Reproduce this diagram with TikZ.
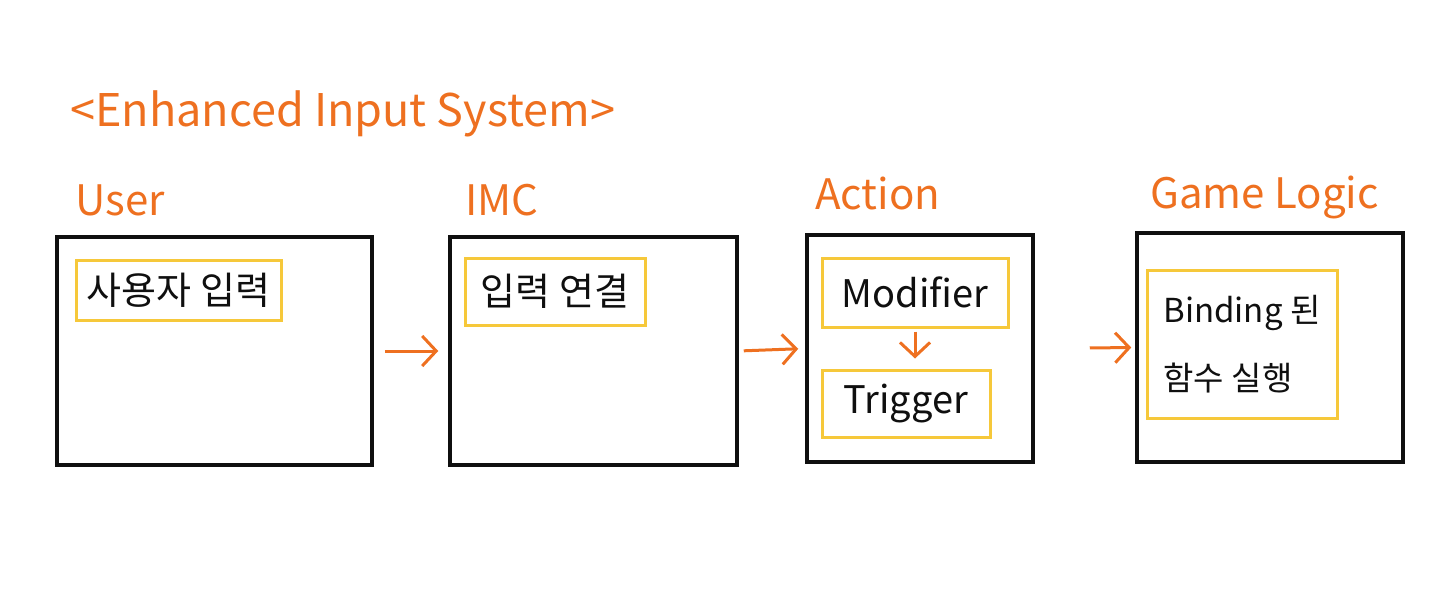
\documentclass[tikz,border=0pt]{standalone}
\usepackage{fontspec}
\setmainfont{Noto Sans CJK KR}
\usepackage{xcolor}
\definecolor{PenOrange}{RGB}{238,112,32}
\definecolor{PenYellow}{RGB}{246,200,58}
\definecolor{PenBlack}{RGB}{15,15,15}
\usepackage{tikz}
\usetikzlibrary{arrows.meta, positioning}
\tikzset{
  % Outer black frame
  frame/.style={
    rectangle, draw=PenBlack, line width=3.5pt
  },
  % Yellow inner box
  ybox/.style={
    rectangle, draw=PenYellow, line width=3pt,
    align=left, inner sep=4pt,
    font=\fontsize{38}{70}\selectfont, text=PenBlack
  },
  % Orange headings
  head/.style={
    anchor=base west, inner sep=0pt, text=PenOrange,
    font=\fontsize{42}{48}\selectfont
  },
  % Arrows
  arr/.style={-{Straight Barb[length=14pt,width=30pt,line width=3pt]}, line width=3pt, PenOrange},
}
\begin{document}
\begin{tikzpicture}[x=1pt, y=-1pt]
  \useasboundingbox (0,0) rectangle (1440,596);

  %% Title and headings
  \node[head, font=\fontsize{45}{50}\selectfont] (title) at (70,127) {<Enhanced Input System>};
  \node[head] (huser)   at (75,215)   {User};
  \node[head] (himc)    at (465,215)  {IMC};
  \node[head] (haction) at (815,210)  {Action};
  \node[head] (hlogic)  at (1150,208) {Game Logic};

  %% Frames
  \node[frame, minimum width=315pt, minimum height=228pt] (user)   at (214.5,351) {};
  \node[frame, minimum width=287pt, minimum height=228pt] (imc)    at (593.5,351) {};
  \node[frame, minimum width=226pt, minimum height=227pt] (action) at (920,348.5) {};
  \node[frame, minimum width=266pt, minimum height=229pt] (logic)  at (1270,347.5) {};

  %% Inner boxes
  \node[ybox, minimum width=205pt, minimum height=60pt] (userin) at (178.5,290) {사용자 입력};
  \node[ybox, minimum width=180pt, minimum height=67pt] (imcin)  at (555,291.5) {입력 연결};
  \node[ybox, minimum width=186pt, minimum height=69pt] (mod)    at (915,292.5) {Modifier};
  \node[ybox, minimum width=168pt, minimum height=67pt] (trig)   at (906,403.5) {Trigger};
  \node[ybox, minimum width=190pt, minimum height=148pt,
        font=\fontsize{33}{68}\selectfont] (bind) at (1242,344) {Binding 된\\함수 실행};

  %% Connectors
  \draw[arr, shorten <=11pt, shorten >=10pt] (user.east) -- (imc.west);
  \draw[arr, shorten <=5pt, shorten >=7pt] (imc.east) -- (action.west);
  \draw[arr, shorten <=55pt, shorten >=4pt] (action.east) -- (logic.west);
  \draw[arr, shorten <=3pt, shorten >=10pt] (mod.south) -- (mod.south |- trig.north);

\end{tikzpicture}
\end{document}
